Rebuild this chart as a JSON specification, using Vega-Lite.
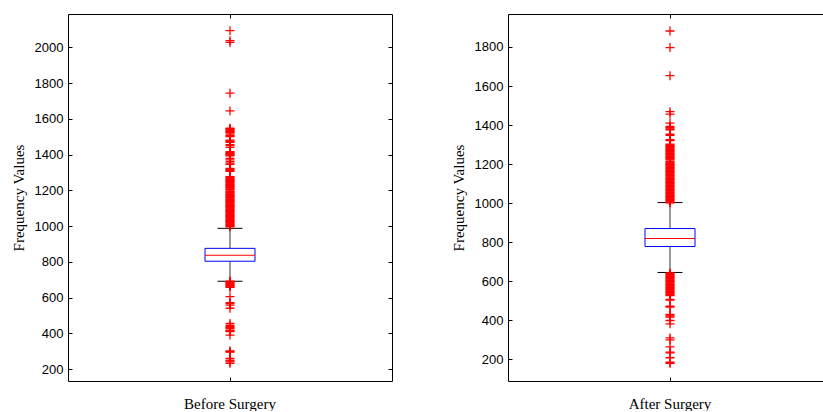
{
  "$schema": "https://vega.github.io/schema/vega-lite/v6.json",
  "padding": {"left": 11, "top": 13, "right": 0, "bottom": 0},
  "spacing": 58,
  "config": {
    "view": {"stroke": null},
    "axis": {"domainColor": "black", "tickColor": "black", "tickSize": -4, "grid": false, "labelColor": "black", "titleColor": "black", "labelFont": "Liberation Sans", "labelFontSize": 13, "titleFont": "Liberation Serif", "titleFontSize": 15, "titleFontWeight": "normal", "domainWidth": 1, "tickWidth": 1}
  },
  "datasets": {
    "before_box": [{"group": "Before Surgery", "lower": 691, "q1": 803, "median": 836, "q3": 875, "upper": 987}],
    "after_box": [{"group": "After Surgery", "lower": 645, "q1": 778, "median": 819, "q3": 870, "upper": 1003}],
    "before_out": [
      {"group": "Before Surgery", "value": 2093}, {"group": "Before Surgery", "value": 2037}, {"group": "Before Surgery", "value": 2027}, {"group": "Before Surgery", "value": 1743}, {"group": "Before Surgery", "value": 1644},
      {"group": "Before Surgery", "value": 1547}, {"group": "Before Surgery", "value": 1544}, {"group": "Before Surgery", "value": 1540}, {"group": "Before Surgery", "value": 1536}, {"group": "Before Surgery", "value": 1532},
      {"group": "Before Surgery", "value": 1528}, {"group": "Before Surgery", "value": 1524}, {"group": "Before Surgery", "value": 1520}, {"group": "Before Surgery", "value": 1510}, {"group": "Before Surgery", "value": 1505},
      {"group": "Before Surgery", "value": 1500}, {"group": "Before Surgery", "value": 1480}, {"group": "Before Surgery", "value": 1476}, {"group": "Before Surgery", "value": 1472}, {"group": "Before Surgery", "value": 1468},
      {"group": "Before Surgery", "value": 1455}, {"group": "Before Surgery", "value": 1450}, {"group": "Before Surgery", "value": 1440}, {"group": "Before Surgery", "value": 1416}, {"group": "Before Surgery", "value": 1412},
      {"group": "Before Surgery", "value": 1408}, {"group": "Before Surgery", "value": 1404}, {"group": "Before Surgery", "value": 1400}, {"group": "Before Surgery", "value": 1396}, {"group": "Before Surgery", "value": 1392},
      {"group": "Before Surgery", "value": 1378}, {"group": "Before Surgery", "value": 1370}, {"group": "Before Surgery", "value": 1360}, {"group": "Before Surgery", "value": 1352}, {"group": "Before Surgery", "value": 1345},
      {"group": "Before Surgery", "value": 1322}, {"group": "Before Surgery", "value": 1318}, {"group": "Before Surgery", "value": 1314}, {"group": "Before Surgery", "value": 1310}, {"group": "Before Surgery", "value": 1306},
      {"group": "Before Surgery", "value": 1276}, {"group": "Before Surgery", "value": 1272}, {"group": "Before Surgery", "value": 1268}, {"group": "Before Surgery", "value": 1264}, {"group": "Before Surgery", "value": 1260},
      {"group": "Before Surgery", "value": 1256}, {"group": "Before Surgery", "value": 1252}, {"group": "Before Surgery", "value": 1248}, {"group": "Before Surgery", "value": 1244}, {"group": "Before Surgery", "value": 1240},
      {"group": "Before Surgery", "value": 1236}, {"group": "Before Surgery", "value": 1232}, {"group": "Before Surgery", "value": 1228}, {"group": "Before Surgery", "value": 1224}, {"group": "Before Surgery", "value": 1220},
      {"group": "Before Surgery", "value": 1216}, {"group": "Before Surgery", "value": 1212}, {"group": "Before Surgery", "value": 1208}, {"group": "Before Surgery", "value": 1204}, {"group": "Before Surgery", "value": 1196},
      {"group": "Before Surgery", "value": 1192}, {"group": "Before Surgery", "value": 1188}, {"group": "Before Surgery", "value": 1184}, {"group": "Before Surgery", "value": 1180}, {"group": "Before Surgery", "value": 1176},
      {"group": "Before Surgery", "value": 1172}, {"group": "Before Surgery", "value": 1168}, {"group": "Before Surgery", "value": 1164}, {"group": "Before Surgery", "value": 1160}, {"group": "Before Surgery", "value": 1156},
      {"group": "Before Surgery", "value": 1152}, {"group": "Before Surgery", "value": 1148}, {"group": "Before Surgery", "value": 1144}, {"group": "Before Surgery", "value": 1140}, {"group": "Before Surgery", "value": 1136},
      {"group": "Before Surgery", "value": 1132}, {"group": "Before Surgery", "value": 1128}, {"group": "Before Surgery", "value": 1124}, {"group": "Before Surgery", "value": 1120}, {"group": "Before Surgery", "value": 1116},
      {"group": "Before Surgery", "value": 1112}, {"group": "Before Surgery", "value": 1108}, {"group": "Before Surgery", "value": 1104}, {"group": "Before Surgery", "value": 1100}, {"group": "Before Surgery", "value": 1096},
      {"group": "Before Surgery", "value": 1092}, {"group": "Before Surgery", "value": 1088}, {"group": "Before Surgery", "value": 1084}, {"group": "Before Surgery", "value": 1080}, {"group": "Before Surgery", "value": 1076},
      {"group": "Before Surgery", "value": 1072}, {"group": "Before Surgery", "value": 1068}, {"group": "Before Surgery", "value": 1064}, {"group": "Before Surgery", "value": 1060}, {"group": "Before Surgery", "value": 1056},
      {"group": "Before Surgery", "value": 1052}, {"group": "Before Surgery", "value": 1048}, {"group": "Before Surgery", "value": 1044}, {"group": "Before Surgery", "value": 1040}, {"group": "Before Surgery", "value": 1036},
      {"group": "Before Surgery", "value": 1032}, {"group": "Before Surgery", "value": 1028}, {"group": "Before Surgery", "value": 1024}, {"group": "Before Surgery", "value": 1020}, {"group": "Before Surgery", "value": 1016},
      {"group": "Before Surgery", "value": 1012}, {"group": "Before Surgery", "value": 1008}, {"group": "Before Surgery", "value": 1004}, {"group": "Before Surgery", "value": 1000}, {"group": "Before Surgery", "value": 996},
      {"group": "Before Surgery", "value": 692}, {"group": "Before Surgery", "value": 688}, {"group": "Before Surgery", "value": 684}, {"group": "Before Surgery", "value": 680}, {"group": "Before Surgery", "value": 676},
      {"group": "Before Surgery", "value": 672}, {"group": "Before Surgery", "value": 668}, {"group": "Before Surgery", "value": 664}, {"group": "Before Surgery", "value": 660}, {"group": "Before Surgery", "value": 657},
      {"group": "Before Surgery", "value": 605}, {"group": "Before Surgery", "value": 571}, {"group": "Before Surgery", "value": 566}, {"group": "Before Surgery", "value": 558}, {"group": "Before Surgery", "value": 540},
      {"group": "Before Surgery", "value": 455}, {"group": "Before Surgery", "value": 445}, {"group": "Before Surgery", "value": 437}, {"group": "Before Surgery", "value": 432}, {"group": "Before Surgery", "value": 428},
      {"group": "Before Surgery", "value": 418}, {"group": "Before Surgery", "value": 414}, {"group": "Before Surgery", "value": 410}, {"group": "Before Surgery", "value": 390}, {"group": "Before Surgery", "value": 301},
      {"group": "Before Surgery", "value": 297}, {"group": "Before Surgery", "value": 294}, {"group": "Before Surgery", "value": 260}, {"group": "Before Surgery", "value": 250}, {"group": "Before Surgery", "value": 246},
      {"group": "Before Surgery", "value": 240}, {"group": "Before Surgery", "value": 232}
    ],
    "after_out": [
      {"group": "After Surgery", "value": 1882}, {"group": "After Surgery", "value": 1797}, {"group": "After Surgery", "value": 1653}, {"group": "After Surgery", "value": 1469}, {"group": "After Surgery", "value": 1456},
      {"group": "After Surgery", "value": 1410}, {"group": "After Surgery", "value": 1393}, {"group": "After Surgery", "value": 1387}, {"group": "After Surgery", "value": 1380}, {"group": "After Surgery", "value": 1376},
      {"group": "After Surgery", "value": 1353}, {"group": "After Surgery", "value": 1347}, {"group": "After Surgery", "value": 1325}, {"group": "After Surgery", "value": 1320},
      {"group": "After Surgery", "value": 1302}, {"group": "After Surgery", "value": 1298}, {"group": "After Surgery", "value": 1294}, {"group": "After Surgery", "value": 1290}, {"group": "After Surgery", "value": 1286},
      {"group": "After Surgery", "value": 1282}, {"group": "After Surgery", "value": 1278}, {"group": "After Surgery", "value": 1274}, {"group": "After Surgery", "value": 1270}, {"group": "After Surgery", "value": 1266},
      {"group": "After Surgery", "value": 1262}, {"group": "After Surgery", "value": 1258}, {"group": "After Surgery", "value": 1254}, {"group": "After Surgery", "value": 1250}, {"group": "After Surgery", "value": 1246},
      {"group": "After Surgery", "value": 1242}, {"group": "After Surgery", "value": 1238}, {"group": "After Surgery", "value": 1234}, {"group": "After Surgery", "value": 1230}, {"group": "After Surgery", "value": 1226},
      {"group": "After Surgery", "value": 1222}, {"group": "After Surgery", "value": 1214}, {"group": "After Surgery", "value": 1210}, {"group": "After Surgery", "value": 1206}, {"group": "After Surgery", "value": 1202},
      {"group": "After Surgery", "value": 1198}, {"group": "After Surgery", "value": 1194}, {"group": "After Surgery", "value": 1190}, {"group": "After Surgery", "value": 1186}, {"group": "After Surgery", "value": 1182},
      {"group": "After Surgery", "value": 1178}, {"group": "After Surgery", "value": 1174}, {"group": "After Surgery", "value": 1170}, {"group": "After Surgery", "value": 1166}, {"group": "After Surgery", "value": 1162},
      {"group": "After Surgery", "value": 1158}, {"group": "After Surgery", "value": 1154}, {"group": "After Surgery", "value": 1150}, {"group": "After Surgery", "value": 1146}, {"group": "After Surgery", "value": 1142},
      {"group": "After Surgery", "value": 1138}, {"group": "After Surgery", "value": 1134}, {"group": "After Surgery", "value": 1130}, {"group": "After Surgery", "value": 1126}, {"group": "After Surgery", "value": 1122},
      {"group": "After Surgery", "value": 1118}, {"group": "After Surgery", "value": 1114}, {"group": "After Surgery", "value": 1110}, {"group": "After Surgery", "value": 1106}, {"group": "After Surgery", "value": 1102},
      {"group": "After Surgery", "value": 1098}, {"group": "After Surgery", "value": 1094}, {"group": "After Surgery", "value": 1090}, {"group": "After Surgery", "value": 1086}, {"group": "After Surgery", "value": 1082},
      {"group": "After Surgery", "value": 1078}, {"group": "After Surgery", "value": 1074}, {"group": "After Surgery", "value": 1070}, {"group": "After Surgery", "value": 1066}, {"group": "After Surgery", "value": 1062},
      {"group": "After Surgery", "value": 1058}, {"group": "After Surgery", "value": 1054}, {"group": "After Surgery", "value": 1050}, {"group": "After Surgery", "value": 1046}, {"group": "After Surgery", "value": 1042},
      {"group": "After Surgery", "value": 1038}, {"group": "After Surgery", "value": 1034}, {"group": "After Surgery", "value": 1030}, {"group": "After Surgery", "value": 1026}, {"group": "After Surgery", "value": 1022},
      {"group": "After Surgery", "value": 1018}, {"group": "After Surgery", "value": 1014}, {"group": "After Surgery", "value": 1010}, {"group": "After Surgery", "value": 1006}, {"group": "After Surgery", "value": 1002},
      {"group": "After Surgery", "value": 643}, {"group": "After Surgery", "value": 639}, {"group": "After Surgery", "value": 635}, {"group": "After Surgery", "value": 631}, {"group": "After Surgery", "value": 627},
      {"group": "After Surgery", "value": 623}, {"group": "After Surgery", "value": 619}, {"group": "After Surgery", "value": 615}, {"group": "After Surgery", "value": 611}, {"group": "After Surgery", "value": 607},
      {"group": "After Surgery", "value": 603}, {"group": "After Surgery", "value": 599}, {"group": "After Surgery", "value": 595}, {"group": "After Surgery", "value": 591}, {"group": "After Surgery", "value": 587},
      {"group": "After Surgery", "value": 583}, {"group": "After Surgery", "value": 579}, {"group": "After Surgery", "value": 575}, {"group": "After Surgery", "value": 571}, {"group": "After Surgery", "value": 567},
      {"group": "After Surgery", "value": 563}, {"group": "After Surgery", "value": 559}, {"group": "After Surgery", "value": 555}, {"group": "After Surgery", "value": 551}, {"group": "After Surgery", "value": 547},
      {"group": "After Surgery", "value": 543}, {"group": "After Surgery", "value": 539}, {"group": "After Surgery", "value": 535}, {"group": "After Surgery", "value": 531}, {"group": "After Surgery", "value": 527},
      {"group": "After Surgery", "value": 507}, {"group": "After Surgery", "value": 503}, {"group": "After Surgery", "value": 472}, {"group": "After Surgery", "value": 468}, {"group": "After Surgery", "value": 430},
      {"group": "After Surgery", "value": 426}, {"group": "After Surgery", "value": 421}, {"group": "After Surgery", "value": 416}, {"group": "After Surgery", "value": 399}, {"group": "After Surgery", "value": 382},
      {"group": "After Surgery", "value": 310}, {"group": "After Surgery", "value": 300}, {"group": "After Surgery", "value": 264}, {"group": "After Surgery", "value": 237}, {"group": "After Surgery", "value": 233},
      {"group": "After Surgery", "value": 208}, {"group": "After Surgery", "value": 185}, {"group": "After Surgery", "value": 180}
    ]
  },
  "hconcat": [
    {
      "width": 324,
      "height": 367,
      "resolve": {"axis": {"x": "independent", "y": "independent"}},
      "layer": [
        {
          "data": {"name": "before_box"},
          "mark": {"type": "rule", "color": "#333333", "strokeWidth": 1},
          "encoding": {
            "x": {"field": "group", "type": "nominal", "scale": {"paddingInner": 0, "paddingOuter": 0}, "axis": {"orient": "bottom", "title": null, "labelAngle": 0, "labelFont": "Liberation Serif", "labelFontSize": 15, "labelPadding": 19}},
            "y": {"field": "q3", "type": "quantitative", "scale": {"domain": [133, 2186], "nice": false, "zero": false}, "axis": {"orient": "left", "title": "Frequency Values", "format": "d", "values": [200, 400, 600, 800, 1000, 1200, 1400, 1600, 1800, 2000], "labelPadding": 9, "titlePadding": 9, "minExtent": 33, "maxExtent": 33}},
            "y2": {"field": "upper"}
          }
        },
        {
          "data": {"name": "before_box"},
          "mark": {"type": "rule", "color": "#333333", "strokeWidth": 1},
          "encoding": {
            "x": {"field": "group", "type": "nominal", "axis": null},
            "y": {"field": "lower", "type": "quantitative", "axis": null},
            "y2": {"field": "q1"}
          }
        },
        {
          "data": {"name": "before_box"},
          "mark": {"type": "tick", "color": "black", "size": 25, "thickness": 1, "opacity": 1},
          "encoding": {
            "x": {"field": "group", "type": "nominal", "axis": null},
            "y": {"field": "upper", "type": "quantitative", "axis": null}
          }
        },
        {
          "data": {"name": "before_box"},
          "mark": {"type": "tick", "color": "black", "size": 25, "thickness": 1, "opacity": 1},
          "encoding": {
            "x": {"field": "group", "type": "nominal", "axis": null},
            "y": {"field": "lower", "type": "quantitative", "axis": null}
          }
        },
        {
          "data": {"name": "before_box"},
          "mark": {"type": "bar", "width": 50, "fill": "white", "stroke": "#0000ff", "strokeWidth": 1},
          "encoding": {
            "x": {"field": "group", "type": "nominal", "axis": null},
            "y": {"field": "q1", "type": "quantitative", "axis": null},
            "y2": {"field": "q3"}
          }
        },
        {
          "data": {"name": "before_box"},
          "mark": {"type": "tick", "color": "#ff0000", "size": 50, "thickness": 1, "opacity": 1},
          "encoding": {
            "x": {"field": "group", "type": "nominal", "axis": null},
            "y": {"field": "median", "type": "quantitative", "axis": null}
          }
        },
        {
          "data": {"name": "before_out"},
          "mark": {"type": "point", "shape": "M-1,0L1,0M0,-1L0,1", "filled": false, "stroke": "#ff0000", "strokeWidth": 1.3, "size": 80, "opacity": 1},
          "encoding": {
            "x": {"field": "group", "type": "nominal", "axis": {"orient": "top", "labels": false, "title": null}},
            "y": {"field": "value", "type": "quantitative", "axis": {"orient": "right", "labels": false, "title": null, "values": [200, 400, 600, 800, 1000, 1200, 1400, 1600, 1800, 2000]}}
          }
        }
      ]
    },
    {
      "width": 324,
      "height": 367,
      "resolve": {"axis": {"x": "independent", "y": "independent"}},
      "layer": [
        {
          "data": {"name": "after_box"},
          "mark": {"type": "rule", "color": "#333333", "strokeWidth": 1},
          "encoding": {
            "x": {"field": "group", "type": "nominal", "scale": {"paddingInner": 0, "paddingOuter": 0}, "axis": {"orient": "bottom", "title": null, "labelAngle": 0, "labelFont": "Liberation Serif", "labelFontSize": 15, "labelPadding": 19}},
            "y": {"field": "q3", "type": "quantitative", "scale": {"domain": [89, 1969], "nice": false, "zero": false}, "axis": {"orient": "left", "title": "Frequency Values", "format": "d", "values": [200, 400, 600, 800, 1000, 1200, 1400, 1600, 1800], "labelPadding": 9, "titlePadding": 9, "minExtent": 33, "maxExtent": 33}},
            "y2": {"field": "upper"}
          }
        },
        {
          "data": {"name": "after_box"},
          "mark": {"type": "rule", "color": "#333333", "strokeWidth": 1},
          "encoding": {
            "x": {"field": "group", "type": "nominal", "axis": null},
            "y": {"field": "lower", "type": "quantitative", "axis": null},
            "y2": {"field": "q1"}
          }
        },
        {
          "data": {"name": "after_box"},
          "mark": {"type": "tick", "color": "black", "size": 25, "thickness": 1, "opacity": 1},
          "encoding": {
            "x": {"field": "group", "type": "nominal", "axis": null},
            "y": {"field": "upper", "type": "quantitative", "axis": null}
          }
        },
        {
          "data": {"name": "after_box"},
          "mark": {"type": "tick", "color": "black", "size": 25, "thickness": 1, "opacity": 1},
          "encoding": {
            "x": {"field": "group", "type": "nominal", "axis": null},
            "y": {"field": "lower", "type": "quantitative", "axis": null}
          }
        },
        {
          "data": {"name": "after_box"},
          "mark": {"type": "bar", "width": 50, "fill": "white", "stroke": "#0000ff", "strokeWidth": 1},
          "encoding": {
            "x": {"field": "group", "type": "nominal", "axis": null},
            "y": {"field": "q1", "type": "quantitative", "axis": null},
            "y2": {"field": "q3"}
          }
        },
        {
          "data": {"name": "after_box"},
          "mark": {"type": "tick", "color": "#ff0000", "size": 50, "thickness": 1, "opacity": 1},
          "encoding": {
            "x": {"field": "group", "type": "nominal", "axis": null},
            "y": {"field": "median", "type": "quantitative", "axis": null}
          }
        },
        {
          "data": {"name": "after_out"},
          "mark": {"type": "point", "shape": "M-1,0L1,0M0,-1L0,1", "filled": false, "stroke": "#ff0000", "strokeWidth": 1.3, "size": 80, "opacity": 1},
          "encoding": {
            "x": {"field": "group", "type": "nominal", "axis": {"orient": "top", "labels": false, "title": null}},
            "y": {"field": "value", "type": "quantitative", "axis": {"orient": "right", "labels": false, "title": null, "values": [200, 400, 600, 800, 1000, 1200, 1400, 1600, 1800]}}
          }
        }
      ]
    }
  ]
}
